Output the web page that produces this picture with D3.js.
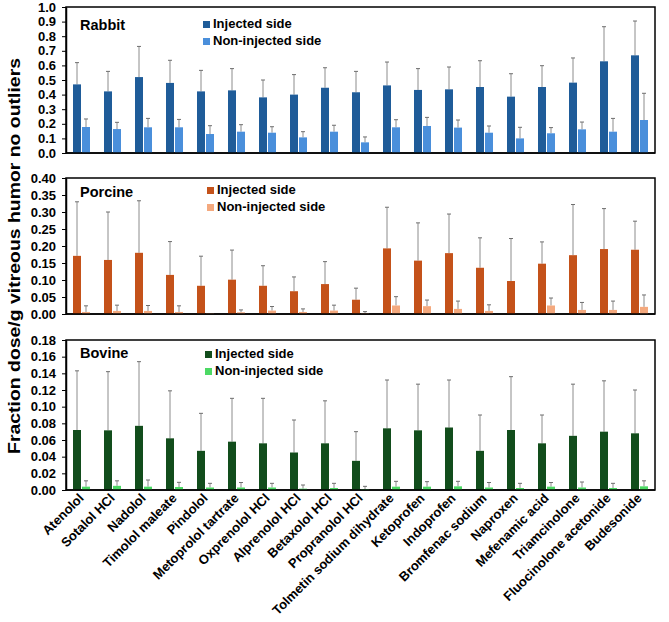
<!DOCTYPE html>
<html><head><meta charset="utf-8">
<script src="https://cdn.jsdelivr.net/npm/d3@7"></script>
<style>body{margin:0;background:#fff}text{font-family:"Liberation Sans",Arial,sans-serif;font-weight:bold}</style>
</head><body>
<svg id="c" width="669" height="622"></svg>
<script>
const categories = ["Atenolol","Sotalol HCl","Nadolol","Timolol maleate","Pindolol","Metoprolol tartrate","Oxprenolol HCl","Alprenolol HCl","Betaxolol HCl","Propranolol HCl","Tolmetin sodium dihydrate","Ketoprofen","Indoprofen","Bromfenac sodium","Naproxen","Mefenamic acid","Triamcinolone","Fluocinolone acetonide","Budesonide"];

const rabbitInj    = [0.470,0.422,0.520,0.480,0.422,0.429,0.381,0.400,0.447,0.416,0.463,0.432,0.436,0.452,0.386,0.452,0.482,0.628,0.669];
const rabbitInjErr = [0.619,0.559,0.730,0.635,0.566,0.578,0.500,0.537,0.584,0.559,0.623,0.578,0.589,0.632,0.543,0.598,0.651,0.865,0.904];
const rabbitNon    = [0.178,0.164,0.176,0.176,0.130,0.146,0.139,0.107,0.146,0.073,0.176,0.185,0.174,0.139,0.100,0.135,0.162,0.146,0.226];
const rabbitNonErr = [0.233,0.210,0.237,0.230,0.187,0.194,0.180,0.146,0.190,0.110,0.228,0.244,0.226,0.185,0.176,0.174,0.212,0.237,0.409];

const porcineInj    = [0.171,0.159,0.180,0.115,0.083,0.101,0.083,0.067,0.088,0.042,0.193,0.157,0.179,0.136,0.097,0.148,0.173,0.191,0.189];
const porcineInjErr = [0.330,0.300,0.333,0.213,0.170,0.188,0.142,0.109,0.154,0.076,0.314,0.268,0.294,0.224,0.222,0.212,0.322,0.310,0.273];
const porcineNon    = [0.006,0.009,0.009,0.006,0.002,0.005,0.010,0.006,0.010,0.002,0.025,0.023,0.015,0.009,0.000,0.025,0.012,0.012,0.021];
const porcineNonErr = [0.024,0.026,0.025,0.024,0.002,0.012,0.022,0.015,0.026,0.007,0.051,0.041,0.038,0.027,0.000,0.047,0.034,0.038,0.056];

const bovineInj    = [0.072,0.0716,0.077,0.062,0.047,0.058,0.056,0.045,0.056,0.035,0.074,0.0716,0.075,0.047,0.072,0.056,0.065,0.070,0.068];
const bovineInjErr = [0.143,0.142,0.154,0.119,0.092,0.110,0.110,0.084,0.107,0.070,0.132,0.127,0.132,0.090,0.136,0.090,0.127,0.131,0.120];
const bovineNon    = [0.004,0.005,0.004,0.0036,0.003,0.003,0.003,0.0016,0.0024,0.001,0.004,0.004,0.0044,0.003,0.0024,0.004,0.003,0.0024,0.0044];
const bovineNonErr = [0.011,0.011,0.012,0.0092,0.008,0.009,0.008,0.006,0.008,0.0044,0.0104,0.010,0.0104,0.009,0.008,0.009,0.0096,0.008,0.011];

const rabbitTicks  = d3.range(0, 1.0001, 0.1);
const porcineTicks = d3.range(0, 0.40001, 0.05);
const bovineTicks  = d3.range(0, 0.18001, 0.02);

const legendLabels = ["Injected side","Non-injected side"];
const yLabel = "Fraction dose/g vitreous humor no outliers";

const panels = [
  {name:"Rabbit", inj:rabbitInj, injErr:rabbitInjErr, non:rabbitNon, nonErr:rabbitNonErr, ticks:rabbitTicks, max:1.0, fmt:".1f", top:7, bottom:153, colors:["#1f5c99","#4a8fdb"], titleY:30, legX:203, legY:21},
  {name:"Porcine", inj:porcineInj, injErr:porcineInjErr, non:porcineNon, nonErr:porcineNonErr, ticks:porcineTicks, max:0.40, fmt:".2f", top:178, bottom:314, colors:["#c4521a","#f4a97e"], titleY:197, legX:207, legY:187},
  {name:"Bovine", inj:bovineInj, injErr:bovineInjErr, non:bovineNon, nonErr:bovineNonErr, ticks:bovineTicks, max:0.18, fmt:".2f", top:340, bottom:490, colors:["#124d1c","#4cd964"], titleY:358, legX:205, legY:351}
];

const svg = d3.select("#c");
const left = 66, right = 655;
const x = d3.scaleBand().domain(categories).range([left, right]);
const barW = 8;

panels.forEach(p => {
  const y = d3.scaleLinear().domain([0, p.max]).range([p.bottom, p.top]);
  const g = svg.append("g");
  g.append("rect").attr("x", left).attr("y", p.top).attr("width", right-left).attr("height", p.bottom-p.top)
    .attr("fill","none").attr("stroke","#000").attr("stroke-width",1.5);
  const ax = g.append("g").attr("transform",`translate(${left},0)`)
    .call(d3.axisLeft(y).tickValues(p.ticks).tickFormat(d3.format(p.fmt)).tickSize(4).tickSizeOuter(0));
  ax.select(".domain").attr("stroke","#000").attr("stroke-width",1.5);
  ax.selectAll(".tick line").attr("stroke","#000");
  ax.selectAll(".tick text").attr("font-size",13).attr("fill","#000").attr("x",-10)
    .style("font-family","Liberation Sans, Arial, sans-serif").style("font-weight","bold");

  const series = [
    {vals:p.inj, errs:p.injErr, off:-barW-0.5, color:p.colors[0]},
    {vals:p.non, errs:p.nonErr, off:0.5, color:p.colors[1]}
  ];
  series.forEach(s => {
    categories.forEach((c,i) => {
      const cx = x(c) + x.bandwidth()/2 + s.off;
      const v = s.vals[i], e = s.errs[i];
      if (e > v) {
        const ex = cx + barW/2;
        g.append("line").attr("x1",ex).attr("x2",ex).attr("y1",y(v)).attr("y2",y(e)).attr("stroke","#8c8c8c").attr("stroke-width",1);
        g.append("line").attr("x1",ex-2).attr("x2",ex+2).attr("y1",y(e)).attr("y2",y(e)).attr("stroke","#6e6e6e").attr("stroke-width",1);
      }
      if (v > 0) {
        g.append("rect").attr("x",cx).attr("width",barW).attr("y",y(v)).attr("height",y(0)-y(v)).attr("fill",s.color);
      }
    });
  });
  g.append("line").attr("x1",left).attr("x2",right).attr("y1",p.bottom).attr("y2",p.bottom).attr("stroke","#000").attr("stroke-width",1.5);

  g.append("text").attr("x",80).attr("y",p.titleY).attr("font-size",14.5).text(p.name);
  legendLabels.forEach((l,k) => {
    g.append("rect").attr("x",p.legX).attr("y",p.legY + k*17).attr("width",7).attr("height",7).attr("fill",p.colors[k]);
    g.append("text").attr("x",p.legX+10).attr("y",p.legY + k*17 + 7).attr("font-size",13).text(l);
  });
});

categories.forEach(c => {
  const cx = x(c) + x.bandwidth()/2 + 3;
  svg.append("text").attr("transform",`translate(${cx},499) rotate(-45)`).attr("text-anchor","end")
    .attr("font-size",13).text(c);
});

svg.append("text").attr("transform","translate(20,256) rotate(-90)").attr("text-anchor","middle")
  .attr("font-size",17).attr("textLength",396).attr("lengthAdjust","spacingAndGlyphs").text(yLabel);
</script>
</body></html>
